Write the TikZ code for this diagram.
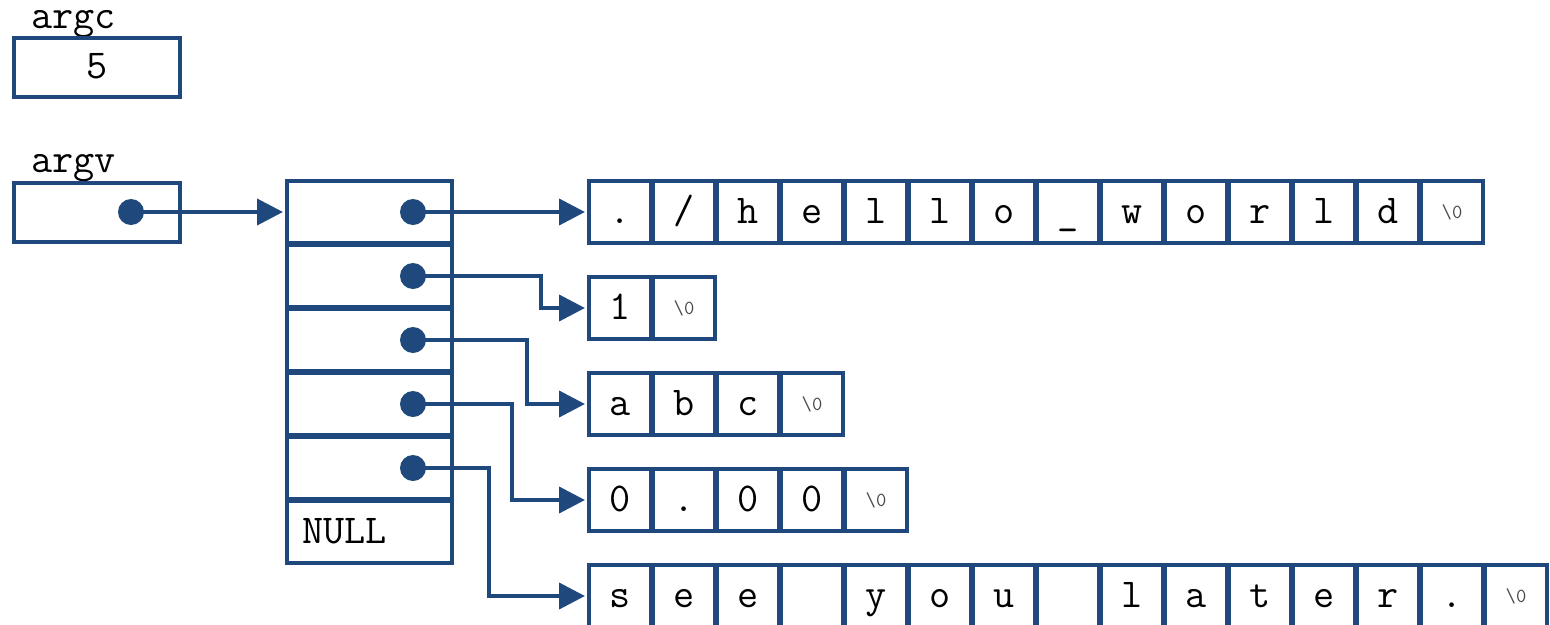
\documentclass[tikz,border=0pt]{standalone}
\usepackage{fontspec}
\usetikzlibrary{arrows.meta}
\definecolor{mblue}{RGB}{31,73,125}
\definecolor{zgray}{RGB}{70,70,70}
\newcommand\strrow[4]{%
  \foreach \ch [count=\i from 0] in {#3} {
    \node[cell] (#1\i) at ({620+64*\i},#2) {\ch};
  }
  \node[cell, termtext] (#1end) at ({620+64*#4},#2) {\textbackslash 0};
}
\begin{document}
\begin{tikzpicture}[x=1pt,y=-1pt,
  frame/.style={draw=mblue, line width=4pt, line join=miter, inner sep=0pt, outer sep=0pt},
  cell/.style={frame, minimum width=62pt, minimum height=62pt,
    font=\ttfamily\fontsize{41}{44}\selectfont, text height=22pt, text depth=0pt},
  termtext/.style={font=\ttfamily\fontsize{20}{22}\selectfont, text=zgray, text height=12pt},
  slot/.style={frame, minimum width=165pt, minimum height=62pt},
  lbl/.style={inner sep=0pt, font=\ttfamily\fontsize{41}{44}\selectfont},
  dot/.style={circle, fill=mblue, inner sep=0pt, minimum size=26pt},
  conn/.style={draw=mblue, line width=4pt, line join=miter,
    -{Triangle[length=26pt,width=26pt]}, shorten >=4pt}
]
\useasboundingbox (0,0) rectangle (1550,624);

% argc
\node[lbl, anchor=base west] (argcl) at (31,28) {argc};
\node[frame, minimum width=166pt, minimum height=59pt,
  font=\ttfamily\fontsize{41}{44}\selectfont, text height=22pt, text depth=0pt] (argc) at (97,67.5) {5};

% argv
\node[lbl, anchor=base west] (argvl) at (31,172) {argv};
\node[frame, minimum width=166pt, minimum height=59pt] (argv) at (97,212) {};
\node[dot] (vdot) at (131,212) {};

% array of pointers
\foreach \k in {0,...,5} {
  \node[slot] (r\k) at (369.5,{212+64*\k}) {};
}
\node[lbl, anchor=base west] (null) at (302,543) {NULL};
\foreach \k in {0,...,4} {
  \node[dot] (d\k) at (413,{212+64*\k}) {};
}

% strings
\strrow{s0}{212}{.,/,h,e,l,l,o,\_,w,o,r,l,d}{13}
\strrow{s1}{308}{1}{1}
\strrow{s2}{404}{a,b,c}{3}
\strrow{s3}{500}{0,.,0,0}{4}
\strrow{s4}{596}{s,e,e,{},y,o,u,{},l,a,t,e,r,.}{14}

% bend coordinates
\coordinate (k1) at (541,0);
\coordinate (k2) at (527,0);
\coordinate (k3) at (512,0);
\coordinate (k4) at (489,0);

% connectors
\draw[conn] (vdot.center) -- (r0.west);
\draw[conn] (d0.center) -- (s00.west);
\draw[conn] (d1.center) -- (d1.center -| k1) |- (s10.west);
\draw[conn] (d2.center) -- (d2.center -| k2) |- (s20.west);
\draw[conn] (d3.center) -- (d3.center -| k3) |- (s30.west);
\draw[conn] (d4.center) -- (d4.center -| k4) |- (s40.west);
\end{tikzpicture}
\end{document}
